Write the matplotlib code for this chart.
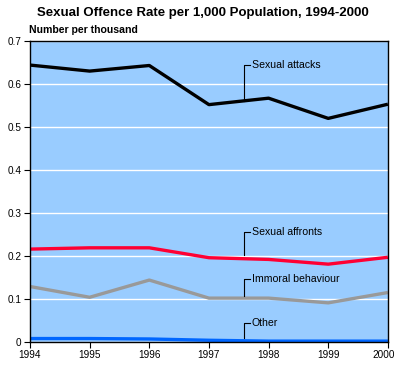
import matplotlib
matplotlib.use("Agg")
import matplotlib.pyplot as plt
import matplotlib.transforms as mtransforms

plt.rcParams["font.family"] = ["Liberation Sans", "DejaVu Sans"]

years = [1994, 1995, 1996, 1997, 1998, 1999, 2000]
sexual_attacks = [0.644, 0.630, 0.643, 0.552, 0.567, 0.520, 0.553]
sexual_affronts = [0.216, 0.219, 0.219, 0.196, 0.192, 0.181, 0.197]
immoral_behaviour = [0.129, 0.104, 0.144, 0.102, 0.102, 0.091, 0.115]
other = [0.008, 0.008, 0.007, 0.004, 0.002, 0.002, 0.002]

# label text position (y) and leader end (y) for each series
labels = ["Sexual attacks", "Sexual affronts", "Immoral behaviour", "Other"]
label_y = [0.644, 0.256, 0.147, 0.044]
leader_end = [0.560, 0.202, 0.107, 0.009]
leader_x = 1997.59

fig = plt.figure(figsize=(3.97, 3.68), dpi=100)
ax = fig.add_axes([0.0756, 0.0707, 0.9014, 0.8179])
ax.set_facecolor("#99CCFF")

ax.plot(years, sexual_attacks, color="black", lw=2.4, solid_capstyle="butt")
ax.plot(years, sexual_affronts, color="#FF0033", lw=2.4, solid_capstyle="butt")
ax.plot(years, immoral_behaviour, color="#999999", lw=2.4, solid_capstyle="butt")
ax.plot(years, other, color="#0066FF", lw=2.4, solid_capstyle="butt")

for name, ty, ey in zip(labels, label_y, leader_end):
    ax.plot([leader_x + 0.1, leader_x, leader_x], [ty, ty, ey], color="black", lw=0.8)
    ax.text(leader_x + 0.13, ty, name, fontsize=7.6, va="center", ha="left")

ax.set_xlim(1994, 2000)
ax.set_ylim(0, 0.7)
ax.set_xticks(years)
ax.set_xticklabels([str(y) for y in years], fontsize=7.2)
ax.set_yticks([0, 0.1, 0.2, 0.3, 0.4, 0.5, 0.6, 0.7])
ax.set_yticklabels(["0", "0.1", "0.2", "0.3", "0.4", "0.5", "0.6", "0.7"], fontsize=7.2)
ax.tick_params(direction="out", length=4, width=0.8, pad=2)
ax.grid(axis="y", color="white", lw=1)
ax.set_axisbelow(True)
for s in ax.spines.values():
    s.set_linewidth(1)
    s.set_color("black")

# keep the last year label inside the figure
last = ax.get_xticklabels()[-1]
last.set_transform(last.get_transform() + mtransforms.ScaledTranslation(-4 / 100, 0, fig.dpi_scale_trans))

fig.text(0.51, 0.965, "Sexual Offence Rate per 1,000 Population, 1994-2000",
         ha="center", va="center", fontsize=9.5, fontweight="bold")
fig.text(0.073, 0.918, "Number per thousand", ha="left", va="center",
         fontsize=7.6, fontweight="bold")

fig.savefig("out.png", dpi=100)
plt.close(fig)
